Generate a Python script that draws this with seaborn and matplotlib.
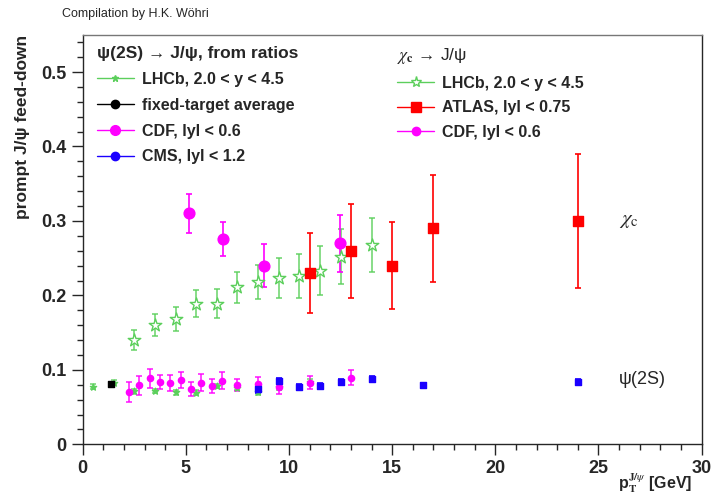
import seaborn as sns
import matplotlib.pyplot as plt
import pandas as pd
from matplotlib.lines import Line2D

# chi_c -> J/psi
lhcb_chic_pt = [2.5, 3.5, 4.5, 5.5, 6.5, 7.5, 8.5, 9.5, 10.5, 11.5, 12.5, 14.0]
lhcb_chic_val = [0.140, 0.160, 0.168, 0.189, 0.189, 0.211, 0.218, 0.223, 0.226, 0.233, 0.252, 0.268]
lhcb_chic_err = [0.014, 0.015, 0.016, 0.018, 0.019, 0.021, 0.023, 0.027, 0.029, 0.033, 0.037, 0.036]

atlas_chic_pt = [11.0, 13.0, 15.0, 17.0, 24.0]
atlas_chic_val = [0.230, 0.260, 0.240, 0.290, 0.300]
atlas_chic_err = [0.054, 0.063, 0.058, 0.072, 0.090]

cdf_chic_pt = [5.15, 6.8, 8.8, 12.45]
cdf_chic_val = [0.310, 0.276, 0.240, 0.270]
cdf_chic_err = [0.026, 0.023, 0.029, 0.038]

# psi(2S) -> J/psi
lhcb_psi_pt = [0.5, 1.5, 2.5, 3.5, 4.5, 5.5, 6.5, 7.5, 8.5, 9.5, 11.0]
lhcb_psi_val = [0.0775, 0.0828, 0.0712, 0.0716, 0.0699, 0.0694, 0.0780, 0.0760, 0.0703, 0.0775, 0.0833]
lhcb_psi_err = [0.003, 0.003, 0.003, 0.003, 0.003, 0.003, 0.003, 0.003, 0.004, 0.004, 0.004]

ft_pt = [1.35]
ft_val = [0.081]
ft_err = [0.002]

cdf_psi_pt = [2.25, 2.75, 3.25, 3.75, 4.25, 4.75, 5.25, 5.75, 6.25, 6.75, 7.5, 8.5, 9.5, 11.0, 13.0]
cdf_psi_val = [0.0703, 0.0793, 0.0887, 0.0837, 0.0824, 0.0864, 0.0743, 0.0828, 0.0788, 0.0855,
               0.0797, 0.0806, 0.0775, 0.0828, 0.0895]
cdf_psi_err = [0.0136, 0.0125, 0.013, 0.010, 0.011, 0.0105, 0.0097, 0.011, 0.0095, 0.0115,
               0.0082, 0.0095, 0.0098, 0.0088, 0.0100]

cms_psi_pt = [8.5, 9.5, 10.5, 11.5, 12.5, 14.0, 16.5, 24.0]
cms_psi_val = [0.0743, 0.0847, 0.0766, 0.0780, 0.0837, 0.0878, 0.0797, 0.0837]
cms_psi_err = [0.005, 0.004, 0.004, 0.004, 0.004, 0.004, 0.003, 0.004]

sns.set_style("ticks")
plt.rcParams["font.family"] = ["Liberation Sans", "DejaVu Sans"]
plt.rcParams["mathtext.fontset"] = "stix"

GREEN = "#5ccf5c"
MAG = "#ff00ff"
RED = "#ff0000"
BLUE = "#1a00ff"

fig = plt.figure(figsize=(7.13, 4.97), dpi=100)
ax = fig.add_axes([0.116, 0.106, 0.868, 0.824])


def draw(pt, val, err, color, marker, size, face=None, alpha=1.0, lw=1.2):
    df = pd.DataFrame({"pt": pt, "val": val})
    ax.errorbar(pt, val, yerr=err, fmt="none", ecolor=color, elinewidth=lw,
                capsize=2.5, capthick=lw, alpha=alpha, zorder=2)
    sns.scatterplot(data=df, x="pt", y="val", ax=ax, marker=marker, s=size,
                    color=face if face is not None else color,
                    edgecolor=color, linewidth=1.0, zorder=3, legend=False)


# psi(2S)
draw(lhcb_psi_pt, lhcb_psi_val, lhcb_psi_err, GREEN, "*", 22, alpha=0.8)
draw(ft_pt, ft_val, ft_err, "black", "s", 16)
draw(cdf_psi_pt, cdf_psi_val, cdf_psi_err, MAG, "o", 20, alpha=0.85)
draw(cms_psi_pt, cms_psi_val, cms_psi_err, BLUE, "s", 14)

# chi_c
draw(lhcb_chic_pt, lhcb_chic_val, lhcb_chic_err, GREEN, "*", 90, face="white", alpha=0.85)
draw(atlas_chic_pt, atlas_chic_val, atlas_chic_err, RED, "s", 55)
draw(cdf_chic_pt, cdf_chic_val, cdf_chic_err, MAG, "o", 60)

ax.text(26.0, 0.300, r"$\chi_\mathrm{c}$", fontsize=15, va="center", ha="left")
ax.text(26.0, 0.087, "ψ(2S)", fontsize=13, va="center", ha="left")

ax.set_xlim(0, 30)
ax.set_ylim(0, 0.55)
ax.set_xticks([0, 5, 10, 15, 20, 25, 30])
ax.set_yticks([0, 0.1, 0.2, 0.3, 0.4, 0.5])
ax.set_xticklabels(["0", "5", "10", "15", "20", "25", "30"])
ax.set_yticklabels(["0", "0.1", "0.2", "0.3", "0.4", "0.5"])
ax.set_xticks([i for i in range(31)], minor=True)
ax.set_yticks([i * 0.02 for i in range(28)], minor=True)
ax.tick_params(which="major", length=8, width=1, labelsize=13)
ax.tick_params(which="minor", length=4, width=1)
for lab in ax.get_xticklabels() + ax.get_yticklabels():
    lab.set_fontweight("bold")
for side in ["top", "right", "left", "bottom"]:
    ax.spines[side].set_visible(True)
    ax.spines[side].set_linewidth(1.0)
ax.spines["top"].set_color("#777777")

ax.set_xlabel("")
ax.text(0.985, -0.094, r"p$_\mathbf{T}^{\mathbf{J/}\psi}$ [GeV]", transform=ax.transAxes,
        fontsize=11.5, fontweight="bold", ha="right", va="center")
ax.set_ylabel("prompt J/ψ feed-down", fontsize=12.5, fontweight="bold",
              loc="top", labelpad=8)

fig.text(0.087, 0.972, "Compilation by H.K. Wöhri", fontsize=9, ha="left", va="center")

# legends
h_left = [
    Line2D([], [], color=GREEN, marker="*", ms=5, lw=1),
    Line2D([], [], color="black", marker="o", ms=6, lw=1),
    Line2D([], [], color=MAG, marker="o", ms=7, lw=1),
    Line2D([], [], color=BLUE, marker="o", ms=6, lw=1),
]
l_left = ["LHCb, 2.0 < y < 4.5", "fixed-target average", "CDF, lyl < 0.6", "CMS, lyl < 1.2"]
leg1 = ax.legend(h_left, l_left, loc="upper left", bbox_to_anchor=(0.005, 1.0),
                 frameon=False, prop={"weight": "bold", "size": 11.5},
                 title="ψ(2S) → J/ψ, from ratios",
                 title_fontproperties={"weight": "bold", "size": 12.5},
                 alignment="left", handlelength=2.3, handletextpad=0.5,
                 labelspacing=0.68, borderaxespad=0.3)
ax.add_artist(leg1)

h_right = [
    Line2D([], [], color=GREEN, marker="*", ms=8, mfc="white", lw=1),
    Line2D([], [], color=RED, marker="s", ms=7, lw=1),
    Line2D([], [], color=MAG, marker="o", ms=6, lw=1),
]
l_right = ["LHCb, 2.0 < y < 4.5", "ATLAS, lyl < 0.75", "CDF, lyl < 0.6"]
ax.legend(h_right, l_right, loc="upper left", bbox_to_anchor=(0.49, 1.0),
          frameon=False, prop={"weight": "bold", "size": 11.5},
          title=r"$\chi_\mathbf{c}$ → J/ψ",
          title_fontproperties={"size": 12.5},
          alignment="left", handlelength=2.3, handletextpad=0.5,
          labelspacing=0.6, borderaxespad=0.3)

fig.savefig("out.png", dpi=100)
